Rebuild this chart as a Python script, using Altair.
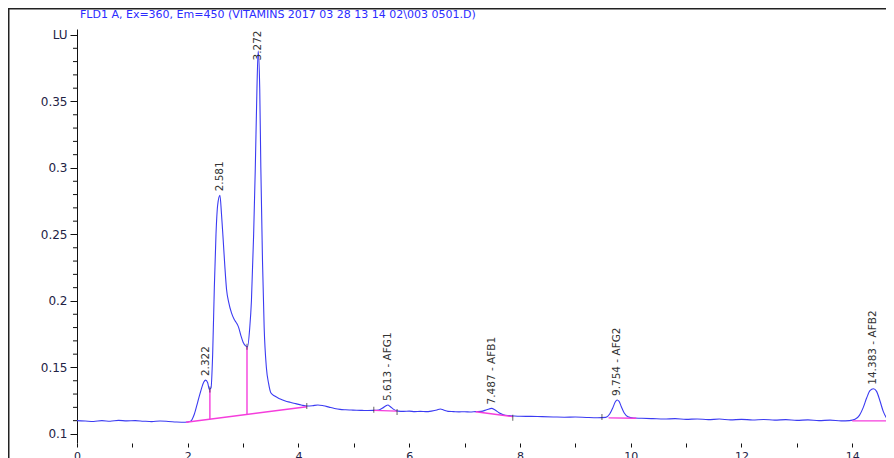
import altair as alt
import pandas as pd

title_text = "FLD1 A, Ex=360, Em=450 (VITAMINS 2017 03 28 13 14 02\\003 0501.D)"

# chromatogram trace (min, LU)
time_min = [
    0.00, 0.15, 0.30, 0.45, 0.60, 0.75, 0.90, 1.05, 1.20, 1.35, 1.50, 1.65, 1.80, 1.95,
    2.05, 2.12, 2.18, 2.24, 2.29, 2.322, 2.36, 2.39, 2.42, 2.45, 2.48, 2.51, 2.54, 2.581,
    2.61, 2.64, 2.67, 2.70, 2.74, 2.79, 2.84, 2.88, 2.92, 2.96, 3.00, 3.05, 3.08, 3.12,
    3.15, 3.19, 3.22, 3.25, 3.272, 3.30, 3.32, 3.35, 3.38, 3.42, 3.46, 3.50, 3.57, 3.66,
    3.75, 3.85, 3.95, 4.05, 4.15, 4.25, 4.35, 4.45, 4.55, 4.65, 4.75, 4.85, 4.95, 5.05,
    5.15, 5.25, 5.35, 5.45, 5.52, 5.58, 5.613, 5.66, 5.72, 5.80, 5.90, 6.00, 6.10, 6.20,
    6.30, 6.40, 6.50, 6.56, 6.62, 6.70, 6.80, 6.90, 7.00, 7.10, 7.20, 7.30, 7.40, 7.487,
    7.55, 7.62, 7.70, 7.80, 7.90, 8.00, 8.20, 8.40, 8.60, 8.80, 9.00, 9.20, 9.40, 9.55,
    9.62, 9.68, 9.72, 9.754, 9.79, 9.83, 9.88, 9.95, 10.05, 10.20, 10.40, 10.60, 10.80,
    11.00, 11.20, 11.40, 11.60, 11.80, 12.00, 12.20, 12.40, 12.60, 12.80, 13.00, 13.20,
    13.40, 13.60, 13.80, 13.95, 14.05, 14.13, 14.20, 14.26, 14.32, 14.383, 14.44, 14.50,
    14.56, 14.62,
]
signal_lu = [
    0.1100, 0.1097, 0.1094, 0.1100, 0.1096, 0.1102, 0.1098, 0.1100, 0.1096, 0.1093, 0.1097, 0.1094, 0.1090, 0.1088,
    0.1095, 0.1150, 0.1240, 0.1330, 0.1390, 0.1405, 0.1385, 0.1335, 0.1345, 0.1600, 0.2100, 0.2500, 0.2720, 0.2794,
    0.2650, 0.2460, 0.2260, 0.2090, 0.1990, 0.1910, 0.1860, 0.1835, 0.1800, 0.1740, 0.1690, 0.1660, 0.1655, 0.1800,
    0.2000, 0.2500, 0.3000, 0.3600, 0.3880, 0.3600, 0.3000, 0.2300, 0.1800, 0.1500, 0.1380, 0.1310, 0.1285, 0.1265,
    0.1250, 0.1238, 0.1228, 0.1218, 0.1210, 0.1212, 0.1218, 0.1212, 0.1202, 0.1192, 0.1185, 0.1182, 0.1180, 0.1178,
    0.1177, 0.1176, 0.1177, 0.1180, 0.1195, 0.1212, 0.1218, 0.1205, 0.1185, 0.1172, 0.1170, 0.1172, 0.1168, 0.1170,
    0.1168, 0.1172, 0.1180, 0.1188, 0.1180, 0.1170, 0.1168, 0.1166, 0.1167, 0.1165, 0.1168, 0.1170, 0.1182, 0.1192,
    0.1180, 0.1160, 0.1145, 0.1138, 0.1135, 0.1133, 0.1132, 0.1130, 0.1128, 0.1126, 0.1127, 0.1124, 0.1122, 0.1125,
    0.1150, 0.1200, 0.1240, 0.1255, 0.1245, 0.1205, 0.1160, 0.1130, 0.1120, 0.1118, 0.1115, 0.1112, 0.1115,
    0.1110, 0.1113, 0.1108, 0.1112, 0.1106, 0.1110, 0.1105, 0.1109, 0.1104, 0.1108, 0.1102, 0.1106,
    0.1100, 0.1104, 0.1098, 0.1100, 0.1110, 0.1140, 0.1200, 0.1270, 0.1325, 0.1340, 0.1320, 0.1250,
    0.1170, 0.1120,
]

# peak annotations
peak_times = [2.322, 2.581, 3.272, 5.613, 7.487, 9.754, 14.383]
peak_names = ["2.322", "2.581", "3.272", "5.613 - AFG1", "7.487 - AFB1", "9.754 - AFG2", "14.383 - AFB2"]
label_y = [0.1405, 0.2794, 0.3778, 0.1218, 0.1192, 0.1255, 0.1340]

# integration baselines (magenta)
base_t0 = [1.97, 5.36, 7.20, 9.60, 14.00]
base_v0 = [0.1088, 0.1177, 0.1167, 0.1121, 0.1098]
base_t1 = [4.15, 5.78, 7.87, 10.10, 14.70]
base_v1 = [0.1205, 0.1172, 0.1130, 0.1118, 0.1098]

# drop lines between fused peaks
drop_t = [2.40, 3.07]
drop_lo = [0.1111, 0.1146]
drop_hi = [0.1335, 0.1655]

# peak start / end markers
mark_t = [2.40, 3.07, 4.15, 5.36, 5.78, 7.87, 9.48]
mark_v = [0.1335, 0.1655, 0.1210, 0.1182, 0.1165, 0.1122, 0.1128]

# axis ticks
y_major = [0.10, 0.15, 0.20, 0.25, 0.30, 0.35, 0.40]
y_minor = [0.11, 0.12, 0.13, 0.14, 0.16, 0.17, 0.18, 0.19, 0.21, 0.22, 0.23, 0.24,
           0.26, 0.27, 0.28, 0.29, 0.31, 0.32, 0.33, 0.34, 0.36, 0.37, 0.38, 0.39]
x_ticks = [0.0, 0.5, 1.0, 1.5, 2.0, 2.5, 3.0, 3.5, 4.0, 4.5, 5.0, 5.5, 6.0, 6.5, 7.0,
           7.5, 8.0, 8.5, 9.0, 9.5, 10.0, 10.5, 11.0, 11.5, 12.0, 12.5, 13.0, 13.5, 14.0, 14.5]

FONT = "DejaVu Sans"
BLUE = "#3b3bf2"
MAGENTA = "#f53ddc"

trace = pd.DataFrame({"t": time_min, "v": signal_lu})
peaks = pd.DataFrame({"t": peak_times, "name": peak_names, "ly": label_y})
bases = pd.DataFrame({"t0": base_t0, "v0": base_v0, "t1": base_t1, "v1": base_v1})
drops = pd.DataFrame({"t": drop_t, "lo": drop_lo, "hi": drop_hi})
marks = pd.DataFrame({"t": mark_t, "v": mark_v})
minor = pd.DataFrame({"v": y_minor})

xscale = alt.Scale(domain=[0, 14.61], nice=False, zero=False)
yscale = alt.Scale(domain=[0.0932, 0.4045], nice=False, zero=False)

xaxis = alt.Axis(
    values=x_ticks, domain=False, grid=False, tickSize=4, tickColor="#111",
    labelExpr="datum.value % 2 == 0 ? format(datum.value, 'd') : ''",
    labelFont=FONT, labelFontSize=11, labelColor="#222244", labelPadding=3,
    title=None, labelFlush=False, labelOverlap=False,
)
yaxis = alt.Axis(
    values=y_major, grid=False, domainColor="#111", tickColor="#111", tickSize=7,
    labelExpr="datum.value > 0.395 ? 'LU' : format(datum.value, '~g')",
    labelFont=FONT, labelFontSize=12, labelColor="#222244", labelPadding=3,
    title=None, labelFlush=False, labelOverlap=False,
)

line = alt.Chart(trace).mark_line(color=BLUE, strokeWidth=1.1, clip=True, interpolate="monotone").encode(
    x=alt.X("t:Q", scale=xscale, axis=xaxis),
    y=alt.Y("v:Q", scale=yscale, axis=yaxis),
)

minor_ticks = alt.Chart(minor).mark_rule(color="#111", strokeWidth=1, clip=False).encode(
    y="v:Q", x=alt.value(-4), x2=alt.value(0),
)

baselines = alt.Chart(bases).mark_rule(color=MAGENTA, strokeWidth=1.4, clip=True).encode(
    x="t0:Q", x2="t1:Q", y="v0:Q", y2="v1:Q",
)

droplines = alt.Chart(drops).mark_rule(color=MAGENTA, strokeWidth=1.4).encode(
    x="t:Q", y="lo:Q", y2="hi:Q",
)

ticks = alt.Chart(marks).mark_tick(orient="vertical", size=6, thickness=1, color="#222").encode(
    x="t:Q", y="v:Q",
)

labels = alt.Chart(peaks).mark_text(
    angle=270, align="left", baseline="middle", dx=4, font=FONT, fontSize=10.5, color="#333333",
).encode(x="t:Q", y="ly:Q", text="name:N")

deco = pd.DataFrame({"label": [title_text]})

frame = alt.Chart(deco).mark_rect(
    fillOpacity=0, stroke="#222222", strokeWidth=1.5, clip=False,
).encode(
    x=alt.value(-68.25), x2=alt.value(830), y=alt.value(-20.25), y2=alt.value(440),
)

title = alt.Chart(deco).mark_text(
    align="left", baseline="middle", font=FONT, fontSize=11, color="#2c2cff", clip=False,
).encode(x=alt.value(3), y=alt.value(-14), text="label:N")

chart = alt.layer(line, frame, title, minor_ticks, baselines, droplines, ticks, labels).properties(
    width=809,
    height=414,
    autosize="none",
    padding={"left": 69, "top": 21, "right": 0, "bottom": 15},
).configure_view(stroke=None)

chart.save("out.html", embed_options={"renderer": "svg", "actions": False})
